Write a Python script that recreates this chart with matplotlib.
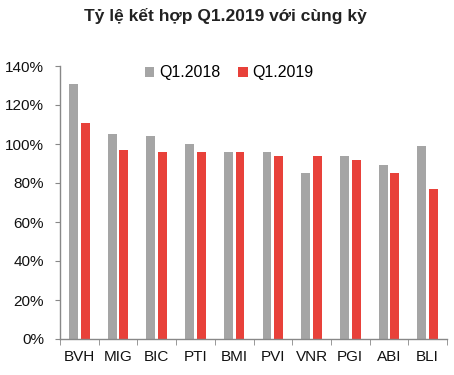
import matplotlib
matplotlib.use("Agg")
import matplotlib.pyplot as plt
import numpy as np
from matplotlib.ticker import FuncFormatter, FixedLocator

plt.rcParams['font.family'] = ['Liberation Sans', 'DejaVu Sans']

categories = ["BVH", "MIG", "BIC", "PTI", "BMI", "PVI", "VNR", "PGI", "ABI", "BLI"]
q1_2018 = [131, 105, 104, 100, 96, 96, 85, 94, 89, 99]
q1_2019 = [111, 97, 96, 96, 96, 94, 94, 92, 85, 77]
series_labels = ["Q1.2018", "Q1.2019"]
title = "Tỷ lệ kết hợp Q1.2019 với cùng kỳ"

fig = plt.figure(figsize=(4.54, 3.75), dpi=100)
ax = fig.add_axes([60/454, 1-339/375, 387/454, (339-66)/375])

x = np.arange(len(categories))
w = 0.23
gap = 0.035
ax.bar(x - w/2 - gap, q1_2018, width=w, color="#A5A5A5", label=series_labels[0], zorder=2)
ax.bar(x + w/2 + gap, q1_2019, width=w, color="#E8413A", label=series_labels[1], zorder=2)

ax.set_xlim(-0.5, len(categories) - 0.5)
ax.set_ylim(0, 140)
ax.set_yticks(np.arange(0, 141, 20))
ax.yaxis.set_major_formatter(FuncFormatter(lambda v, p: f"{int(v)}%"))
ax.set_xticks(x)
ax.set_xticklabels(categories)
ax.xaxis.set_minor_locator(FixedLocator(np.arange(-0.5, len(categories), 1)))
ax.tick_params(axis='x', which='major', length=0, labelsize=11, pad=8, labelcolor="#111111")
ax.tick_params(axis='x', which='minor', length=4, color="#888888", direction='out')
ax.tick_params(axis='y', which='major', length=3.5, color="#888888", labelsize=11,
               labelcolor="#111111", pad=8)

for s in ["top", "right"]:
    ax.spines[s].set_visible(False)
for s in ["left", "bottom"]:
    ax.spines[s].set_color("#888888")
    ax.spines[s].set_linewidth(1)

leg = ax.legend(loc='upper center', bbox_to_anchor=(0.437, 1.055), ncol=2, frameon=False,
                fontsize=11.5, handlelength=0.6, handleheight=0.6, handletextpad=0.3,
                columnspacing=1.1)

fig.text(0.497, 1-16/375, title, ha='center', va='center', fontsize=12.5, fontweight='bold', color="#222222")

fig.savefig("out.png", dpi=100)
